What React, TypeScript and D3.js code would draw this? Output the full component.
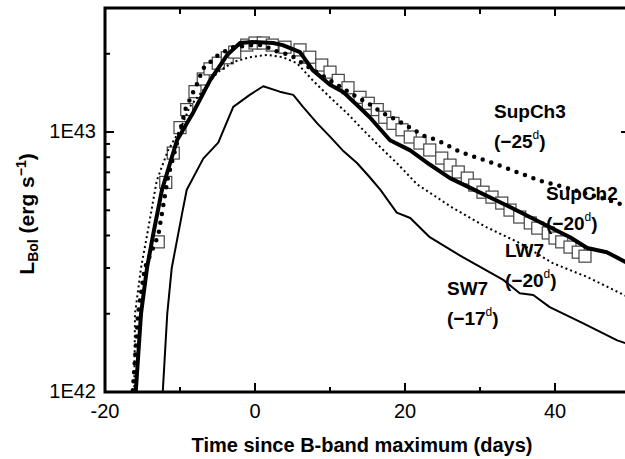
import { useEffect, useRef } from 'react';
import * as d3 from 'd3';

// luminosities are in units of 1E42 erg/s, time in days from B maximum
const supCh3Days = [-16.6, -16.3, -15.6, -14.7, -12.9, -11.6, -10.3, -9.3, -7.7, -6.9, -4.9, -2.9, -0.3, 1.1, 2.7, 4.7, 6.7, 10.3, 13.1, 14.9, 16.9, 18.9, 20.7, 22.4, 24.3, 27.3, 31.7, 35.3, 38.0, 41.1, 46.0, 50.0];
const supCh3Lum = [0.8, 1.0, 2.0, 3.0, 4.0, 6.7, 9.3, 12.2, 15.4, 17.6, 19.8, 21.2, 21.6, 21.6, 20.5, 19.8, 18.1, 15.6, 13.9, 13.0, 11.9, 11.1, 10.4, 9.7, 9.3, 8.4, 7.6, 6.95, 6.5, 6.15, 5.6, 5.15];

const supCh2Days = [-16.1, -15.9, -15.2, -14.4, -13.6, -12.4, -10.4, -8.3, -6.0, -3.7, -2.0, -0.3, 2.4, 3.7, 6.0, 7.7, 10.0, 11.7, 13.6, 15.3, 18.0, 20.7, 23.3, 26.0, 28.7, 33.1, 36.7, 42.0, 44.3, 46.9, 50.0];
const supCh2Lum = [0.8, 1.0, 2.0, 3.0, 4.0, 6.0, 9.3, 11.8, 15.8, 19.8, 22.0, 22.2, 22.0, 21.6, 20.3, 17.3, 15.2, 14.3, 12.7, 11.4, 9.3, 8.5, 7.5, 6.65, 6.1, 5.3, 4.7, 3.94, 3.58, 3.45, 3.1];

const lw7Days = [-16.3, -16.1, -16.0, -15.2, -14.4, -13.1, -11.6, -10.0, -8.7, -6.9, -5.1, -2.9, -0.7, 1.6, 3.7, 5.6, 7.7, 10.0, 12.3, 14.4, 16.7, 18.9, 21.6, 26.4, 30.9, 35.3, 39.7, 44.3, 50.0];
const lw7Lum = [0.8, 1.0, 2.0, 3.0, 4.0, 6.5, 8.5, 10.2, 12.5, 14.5, 16.9, 18.6, 19.4, 19.8, 19.4, 18.4, 15.8, 13.6, 11.8, 10.2, 8.75, 7.6, 6.3, 5.1, 4.3, 3.74, 3.13, 2.77, 2.3];

const sw7Days = [-12.4, -12.3, -11.7, -11.1, -9.7, -9.1, -6.9, -4.9, -2.9, -0.7, 1.1, 3.3, 5.1, 6.4, 8.3, 10.0, 11.7, 13.6, 15.3, 16.7, 18.9, 20.7, 23.3, 27.7, 33.1, 35.3, 37.1, 39.3, 43.7, 48.3, 50.0];
const sw7Lum = [0.8, 1.0, 2.0, 3.0, 4.9, 6.0, 7.9, 9.1, 12.5, 13.9, 15.0, 14.3, 13.9, 12.5, 10.8, 9.6, 8.5, 7.6, 6.7, 6.0, 4.9, 4.67, 3.94, 3.3, 2.7, 2.4, 2.36, 2.12, 1.84, 1.58, 1.52];

const observedDays = [-12.9, -11.9, -10.9, -10.0, -9.1, -8.0, -6.9, -6.0, -4.9, -3.7, -2.7, -1.1, 0.0, 1.1, 2.3, 4.0, 6.0, 7.3, 8.9, 10.0, 11.1, 12.4, 14.0, 15.1, 16.3, 17.3, 18.4, 19.6, 20.7, 22.0, 23.3, 24.9, 26.0, 27.1, 28.3, 29.3, 30.4, 31.6, 32.9, 34.0, 35.3, 36.7, 37.7, 39.1, 40.0, 40.9, 42.0, 43.1, 44.0];
const observedLum = [3.78, 6.4, 8.3, 10.4, 12.2, 14.3, 16.0, 17.5, 18.4, 19.3, 20.3, 21.6, 22.0, 22.0, 21.6, 21.2, 20.7, 19.4, 18.1, 17.0, 15.8, 14.8, 13.6, 12.9, 12.2, 11.4, 10.8, 10.2, 9.57, 9.07, 8.53, 7.94, 7.46, 7.02, 6.65, 6.25, 5.87, 5.62, 5.33, 5.01, 4.71, 4.47, 4.27, 4.09, 3.91, 3.78, 3.61, 3.45, 3.33];

const xTicks = [-20, 0, 20, 40];
const xMinorTicks = [-10, 10, 30, 50];
const yTicks = [1, 10];
const yTickLabels = ['1E42', '1E43'];
const yMinorTicks = [2, 3, 4, 5, 6, 7, 8, 9, 20];

const FONT = 'Arial, "Liberation Sans", Helvetica, sans-serif';

export default function App() {
  const svgRef = useRef<SVGSVGElement>(null);
  const width = 625;
  const height = 459;
  const plot = { left: 105, top: 8, right: 630, bottom: 392 };

  useEffect(() => {
    if (!svgRef.current) return;
    const svg = d3.select(svgRef.current);
    svg.selectAll('*').remove();

    const x = d3.scaleLinear().domain([-20, 50]).range([plot.left, plot.right]);
    const y = d3.scaleLog().domain([1, 30]).range([plot.bottom, plot.top]);

    svg.append('defs').append('clipPath').attr('id', 'plot-clip')
      .append('rect')
      .attr('x', plot.left).attr('y', plot.top)
      .attr('width', plot.right - plot.left).attr('height', plot.bottom - plot.top);

    const g = svg.append('g').attr('clip-path', 'url(#plot-clip)');

    const line = d3.line<[number, number]>()
      .x(d => x(d[0]))
      .y(d => y(d[1]));
    const zip = (a: number[], b: number[]) => a.map((v, i) => [v, b[i]] as [number, number]);

    // observed light curve, open squares
    g.selectAll('.obs')
      .data(zip(observedDays, observedLum))
      .enter()
      .append('rect')
      .attr('class', 'obs')
      .attr('x', d => x(d[0]) - 6)
      .attr('y', d => y(d[1]) - 6)
      .attr('width', 12)
      .attr('height', 12)
      .attr('fill', '#fff')
      .attr('stroke', '#444')
      .attr('stroke-width', 1.2);

    // SW7 thin solid
    g.append('path')
      .attr('d', line(zip(sw7Days, sw7Lum)))
      .attr('fill', 'none').attr('stroke', '#000').attr('stroke-width', 2)
      .attr('stroke-linejoin', 'round');

    // LW7 thin dotted
    g.append('path')
      .attr('d', line(zip(lw7Days, lw7Lum)))
      .attr('fill', 'none').attr('stroke', '#000').attr('stroke-width', 2)
      .attr('stroke-dasharray', '2 3');

    // SupCh2 thick solid
    g.append('path')
      .attr('d', line(zip(supCh2Days, supCh2Lum)))
      .attr('fill', 'none').attr('stroke', '#000').attr('stroke-width', 4)
      .attr('stroke-linejoin', 'round');

    // SupCh3 big dots
    g.append('path')
      .attr('d', line(zip(supCh3Days, supCh3Lum)))
      .attr('fill', 'none').attr('stroke', '#000').attr('stroke-width', 4.5)
      .attr('stroke-linecap', 'round')
      .attr('stroke-dasharray', '0 9');

    // frame
    svg.append('rect')
      .attr('x', plot.left).attr('y', plot.top)
      .attr('width', plot.right - plot.left).attr('height', plot.bottom - plot.top)
      .attr('fill', 'none').attr('stroke', '#000').attr('stroke-width', 3);

    const ticks = svg.append('g').attr('stroke', '#000').attr('stroke-width', 2);
    xTicks.forEach(t => {
      ticks.append('line').attr('x1', x(t)).attr('x2', x(t)).attr('y1', plot.bottom).attr('y2', plot.bottom - 9);
      ticks.append('line').attr('x1', x(t)).attr('x2', x(t)).attr('y1', plot.top).attr('y2', plot.top + 8);
    });
    xMinorTicks.forEach(t => {
      ticks.append('line').attr('x1', x(t)).attr('x2', x(t)).attr('y1', plot.bottom).attr('y2', plot.bottom - 5);
      ticks.append('line').attr('x1', x(t)).attr('x2', x(t)).attr('y1', plot.top).attr('y2', plot.top + 6);
    });
    yTicks.forEach(t => {
      ticks.append('line').attr('x1', plot.left).attr('x2', plot.left + 9).attr('y1', y(t)).attr('y2', y(t));
      ticks.append('line').attr('x1', plot.right).attr('x2', plot.right - 9).attr('y1', y(t)).attr('y2', y(t));
    });
    yMinorTicks.forEach(t => {
      ticks.append('line').attr('x1', plot.left).attr('x2', plot.left + 5).attr('y1', y(t)).attr('y2', y(t));
      ticks.append('line').attr('x1', plot.right).attr('x2', plot.right - 5).attr('y1', y(t)).attr('y2', y(t));
    });

    // tick labels
    svg.append('g')
      .selectAll('text')
      .data(xTicks)
      .enter()
      .append('text')
      .attr('x', d => x(d))
      .attr('y', 418)
      .attr('text-anchor', 'middle')
      .style('font-family', FONT)
      .style('font-size', '20px')
      .text(d => String(d));

    svg.append('g')
      .selectAll('text')
      .data(yTicks)
      .enter()
      .append('text')
      .attr('x', plot.left - 9)
      .attr('y', d => y(d) + 6)
      .attr('text-anchor', 'end')
      .style('font-family', FONT)
      .style('font-size', '20px')
      .text((_, i) => yTickLabels[i]);

    // axis titles
    svg.append('text')
      .attr('x', 362)
      .attr('y', 452)
      .attr('text-anchor', 'middle')
      .style('font-family', FONT)
      .style('font-size', '20px')
      .style('font-weight', 'bold')
      .text('Time since B-band maximum (days)');

    const yTitle = svg.append('text')
      .attr('transform', 'translate(34,214) rotate(-90)')
      .attr('text-anchor', 'middle')
      .style('font-family', FONT)
      .style('font-size', '21px')
      .style('font-weight', 'bold');
    yTitle.append('tspan').text('L');
    yTitle.append('tspan').attr('dy', 4).style('font-size', '14px').text('Bol');
    yTitle.append('tspan').attr('dy', -4).text(' (erg s');
    yTitle.append('tspan').attr('dy', -8).style('font-size', '14px').text('\u22121');
    yTitle.append('tspan').attr('dy', 8).text(')');

    // model labels
    const labels: [string, string, number, number, number][] = [
      ['SupCh3', '25', 494, 118, 148],
      ['SupCh2', '20', 546, 200, 230],
      ['LW7', '20', 505, 257, 287],
      ['SW7', '17', 447, 295, 325],
    ];
    labels.forEach(([name, epoch, lx, y1, y2]) => {
      svg.append('text')
        .attr('x', lx).attr('y', y1)
        .style('font-family', FONT).style('font-size', '19px').style('font-weight', 'bold')
        .text(name);
      const t = svg.append('text')
        .attr('x', lx).attr('y', y2)
        .style('font-family', FONT).style('font-size', '19px').style('font-weight', 'bold');
      t.append('tspan').text('(\u2212' + epoch);
      t.append('tspan').attr('dy', -9).style('font-size', '12px').style('font-weight', 'normal').text('d');
      t.append('tspan').attr('dy', 9).text(')');
    });
  }, []);

  return (
    <svg
      ref={svgRef}
      width={width}
      height={height}
      style={{ position: 'absolute', left: 0, top: 0, background: '#fff' }}
    />
  );
}
